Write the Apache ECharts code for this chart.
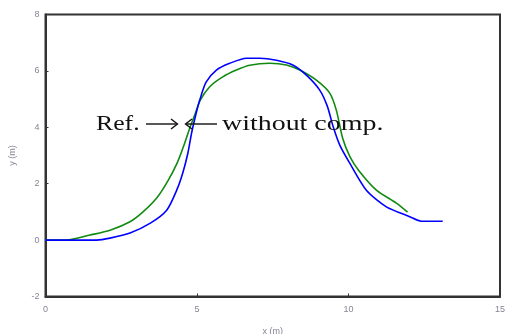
<!DOCTYPE html>
<html>
<head>
	<meta charset="utf-8">
	<title>Path comparison</title>
	<script src="https://cdn.jsdelivr.net/npm/echarts@6/dist/echarts.min.js"></script>
	<style>
		html, body { margin: 0; padding: 0; background: #fff; }
		#chart { width: 506px; height: 334px; }
	</style>
</head>
<body>
	<div id="chart"></div>
	<script>
		// x ticks and y ticks
		var xTicks = [0, 5, 10, 15];
		var yTicks = [-2, 0, 2, 4, 6, 8];

		// reference path (blue), [x, y] in metres
		var refPath = [
			[0, 0], [1.0, 0], [1.69, 0], [2.13, 0.07], [2.79, 0.25], [3.46, 0.60],
			[4.0, 1.06], [4.33, 1.77], [4.53, 2.38], [4.70, 3.09], [4.82, 3.79],
			[4.95, 4.4], [5.1, 5.0], [5.3, 5.6], [5.64, 6.03], [6.08, 6.27],
			[6.63, 6.45], [7.07, 6.45], [7.62, 6.38], [8.16, 6.21], [8.61, 5.85],
			[9.05, 5.32], [9.3, 4.75], [9.5, 4.0], [9.72, 3.35], [10.04, 2.73], [10.59, 1.77],
			[11.25, 1.18], [12.02, 0.83], [12.4, 0.67], [13.11, 0.67]
		];

		// path without compensation (green)
		var noCompPath = [
			[0, 0], [0.7, 0], [1.47, 0.18], [2.13, 0.35], [2.79, 0.65], [3.2, 0.98],
			[3.67, 1.49], [4.04, 2.1], [4.35, 2.75], [4.58, 3.4], [4.76, 3.97],
			[4.93, 4.45], [5.1, 4.95], [5.42, 5.44], [5.85, 5.79], [6.30, 6.03],
			[6.74, 6.2], [7.40, 6.27], [7.95, 6.21], [8.39, 6.03], [8.94, 5.67],
			[9.38, 5.21], [9.6, 4.6], [9.81, 3.6], [10.05, 2.95], [10.35, 2.45], [10.92, 1.77],
			[11.58, 1.31], [11.95, 0.99]
		];

		var chart = echarts.init(document.getElementById('chart'));
		var labelStyle = { color: '#858595', fontSize: 9, fontFamily: 'Arial' };
		var ink = '#111';
		var annoFont = '22px "Liberation Serif"';

		var option = {
			animation: false,
			grid: {
				left: 45.5, top: 14.5, right: 6, bottom: 37.5,
				outerBoundsMode: 'none', containLabel: false,
				show: true, borderColor: '#333', borderWidth: 2, backgroundColor: '#fff'
			},
			xAxis: {
				type: 'value',
				min: xTicks[0], max: xTicks[xTicks.length - 1], interval: 5,
				name: 'x (m)', nameLocation: 'middle', nameGap: 31,
				nameTextStyle: labelStyle,
				axisLine: { show: true, onZero: false, lineStyle: { color: '#333', width: 2 } },
				axisTick: { show: true, inside: true, length: 3, lineStyle: { color: '#333' } },
				axisLabel: Object.assign({ margin: 9 }, labelStyle),
				splitLine: { show: false }
			},
			yAxis: {
				type: 'value',
				min: yTicks[0], max: yTicks[yTicks.length - 1], interval: 2,
				name: 'y (m)', nameLocation: 'middle', nameGap: 28,
				nameTextStyle: labelStyle,
				axisLine: { show: true, onZero: false, lineStyle: { color: '#333', width: 2 } },
				axisTick: { show: true, inside: true, length: 3, lineStyle: { color: '#333' } },
				axisLabel: Object.assign({ margin: 6 }, labelStyle),
				splitLine: { show: false }
			},
			series: [
				{
					name: 'Ref.', type: 'line', data: refPath, smooth: 0.25,
					showSymbol: false, lineStyle: { color: '#0000ff', width: 1.6 }, z: 3
				},
				{
					name: 'without comp.', type: 'line', data: noCompPath, smooth: 0.25,
					showSymbol: false, lineStyle: { color: '#128a12', width: 1.6 }, z: 2
				}
			],
			graphic: [
				{
					type: 'text', x: 96, y: 124, scaleX: 1.17, z: 10,
					style: { text: 'Ref.', fill: ink, font: annoFont, verticalAlign: 'middle', align: 'left' }
				},
				{
					type: 'text', x: 222, y: 124, scaleX: 1.27, z: 10,
					style: { text: 'without comp.', fill: ink, font: annoFont, verticalAlign: 'middle', align: 'left' }
				},
				// right arrow after "Ref."
				{ type: 'line', z: 10, shape: { x1: 146, y1: 124, x2: 177, y2: 124 }, style: { stroke: ink, lineWidth: 1.4 } },
				{ type: 'polyline', z: 10, shape: { points: [[171, 119], [177.5, 124], [171, 129]] }, style: { stroke: ink, lineWidth: 1.4, fill: null } },
				// left arrow before "without comp."
				{ type: 'line', z: 10, shape: { x1: 186, y1: 124, x2: 217, y2: 124 }, style: { stroke: ink, lineWidth: 1.4 } },
				{ type: 'polyline', z: 10, shape: { points: [[192, 119], [185.5, 124], [192, 129]] }, style: { stroke: ink, lineWidth: 1.4, fill: null } }
			]
		};
		chart.setOption(option);
	</script>
</body>
</html>
